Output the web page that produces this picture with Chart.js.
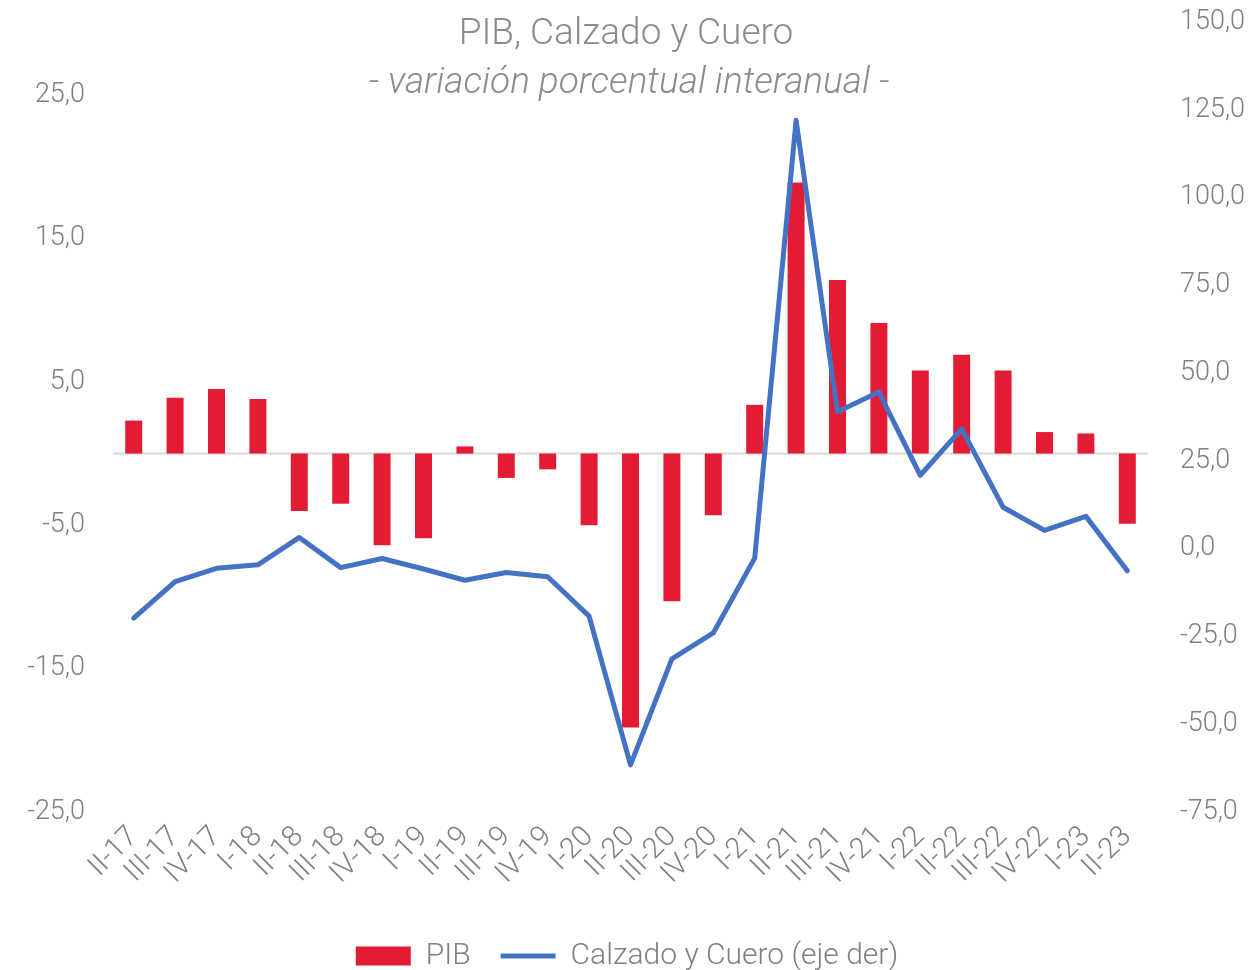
<!DOCTYPE html>
<html lang="es">
<head>
    <meta charset="UTF-8" />
    <title>PIB, Calzado y Cuero</title>
    <script src="https://cdn.jsdelivr.net/npm/chart.js"></script>
    <style>
        body { margin: 0; background: #fff; }
        #wrap { position: relative; width: 1254px; height: 970px; }
        #chart { position: absolute; left: 0; top: 0; }
        .ttl { position: absolute; left: 0; width: 1254px; text-align: center; color: #8c8c8c;
               font-family: Roboto, "Open Sans", sans-serif; font-weight: 300; white-space: nowrap; }
        #title { top: 10px; font-size: 37px; left: -1px; }
        #subtitle { top: 59px; font-size: 37px; font-style: italic; left: 2px; }
    </style>
</head>
<body>
    <div id="wrap">
        <canvas id="chart" width="1254" height="970"></canvas>
        <div id="title" class="ttl">PIB, Calzado y Cuero</div>
        <div id="subtitle" class="ttl">- variación porcentual interanual -</div>
    </div>

    <script>
        // quarters
        const quarters = ["II-17", "III-17", "IV-17", "I-18", "II-18", "III-18", "IV-18", "I-19",
            "II-19", "III-19", "IV-19", "I-20", "II-20", "III-20", "IV-20", "I-21", "II-21",
            "III-21", "IV-21", "I-22", "II-22", "III-22", "IV-22", "I-23", "II-23"];

        // PIB, % (left axis)
        const pib = [2.3, 3.9, 4.5, 3.8, -4.0, -3.5, -6.4, -5.9, 0.5, -1.7, -1.1, -5.0, -19.1,
            -10.3, -4.3, 3.4, 18.9, 12.1, 9.1, 5.8, 6.9, 5.8, 1.5, 1.4, -4.9];

        // Calzado y Cuero, % (right axis)
        const calzado = [-19.8, -9.4, -5.6, -4.6, 3.2, -5.4, -2.8, -5.8, -9.0, -6.8, -8.0, -19.2,
            -61.6, -31.4, -24.0, -2.7, 122.0, 39.0, 44.6, 20.9, 34.1, 11.8, 5.2, 9.2, -6.3];

        const leftTicks = [-25, -15, -5, 5, 15, 25];
        const rightTicks = [-75, -50, -25, 0, 25, 50, 75, 100, 125, 150];

        const fontFamily = 'Roboto, "Open Sans", sans-serif';
        const grey = '#808080';
        const fmt = v => v.toFixed(1).replace('.', ',');

        // light grey line at zero of the left axis
        const zeroLine = {
            id: 'zeroLine',
            beforeDatasetsDraw(chart) {
                const { ctx, chartArea } = chart;
                const y = chart.scales.y.getPixelForValue(0);
                ctx.save();
                ctx.strokeStyle = '#d9d9d9';
                ctx.lineWidth = 2;
                ctx.beginPath();
                ctx.moveTo(chartArea.left, y);
                ctx.lineTo(chartArea.right, y);
                ctx.stroke();
                ctx.restore();
            }
        };

        Chart.defaults.font.family = fontFamily;
        Chart.defaults.font.weight = '300';
        Chart.defaults.color = grey;

        new Chart(document.getElementById('chart'), {
            data: {
                labels: quarters,
                datasets: [
                    {
                        type: 'bar',
                        label: 'PIB',
                        data: pib,
                        yAxisID: 'y',
                        backgroundColor: '#e31c33',
                        barPercentage: 0.41,
                        categoryPercentage: 1,
                        pointStyle: 'rect',
                        order: 1
                    },
                    {
                        type: 'line',
                        label: 'Calzado y Cuero (eje der)',
                        data: calzado,
                        yAxisID: 'y1',
                        borderColor: '#4472c4',
                        backgroundColor: '#4472c4',
                        borderWidth: 5,
                        pointRadius: 0,
                        tension: 0,
                        borderCapStyle: 'round',
                        borderJoinStyle: 'round',
                        pointStyle: 'line',
                        order: 0
                    }
                ]
            },
            options: {
                responsive: false,
                devicePixelRatio: 1,
                animation: false,
                layout: { padding: { top: 22, left: 0, right: 0, bottom: -11 } },
                plugins: {
                    tooltip: { enabled: false },
                    legend: {
                        position: 'bottom',
                        labels: {
                            sort: (a, b) => a.datasetIndex - b.datasetIndex,
                            usePointStyle: true,
                            pointStyleWidth: 55,
                            boxHeight: 19,
                            padding: 30,
                            color: grey,
                            font: { size: 30, weight: '300' }
                        }
                    }
                },
                scales: {
                    x: {
                        offset: true,
                        grid: { display: false },
                        border: { display: false },
                        ticks: {
                            autoSkip: false,
                            maxRotation: 45,
                            minRotation: 45,
                            padding: 0,
                            font: { size: 29, weight: '300' }
                        },
                        afterFit(scale) { scale.height = 99; }
                    },
                    y: {
                        position: 'left',
                        min: -25,
                        max: 30.1,
                        grid: { display: false, drawTicks: true, tickLength: 28 },
                        border: { display: false },
                        afterBuildTicks(scale) { scale.ticks = leftTicks.map(v => ({ value: v })); },
                        ticks: {
                            padding: 0,
                            font: { size: 27, weight: '300' },
                            callback: v => fmt(v)
                        },
                        afterFit(scale) { scale.width = 113; }
                    },
                    y1: {
                        position: 'right',
                        min: -75,
                        max: 150,
                        grid: { display: false, drawTicks: true, tickLength: 32 },
                        border: { display: false },
                        afterBuildTicks(scale) { scale.ticks = rightTicks.map(v => ({ value: v })); },
                        ticks: {
                            padding: 0,
                            font: { size: 27, weight: '300' },
                            callback: v => fmt(v)
                        },
                        afterFit(scale) { scale.width = 106; }
                    }
                }
            },
            plugins: [zeroLine]
        });
    </script>
</body>
</html>
